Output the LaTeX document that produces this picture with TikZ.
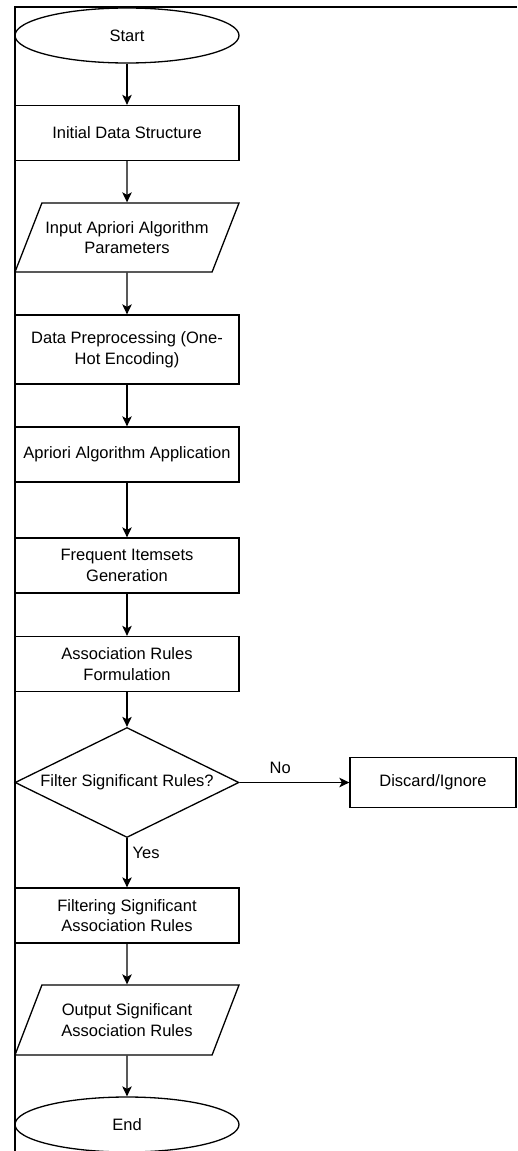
\documentclass[tikz,border=0pt]{standalone}
\usepackage{fontspec}
\setmainfont{Liberation Sans}
\usetikzlibrary{shapes.geometric,arrows.meta}

\begin{document}
\begin{tikzpicture}[->,>={Stealth[length=10pt,width=9.5pt,inset=2.5pt]},x=1pt,y=-1pt,
  line width=1.3pt,
  every node/.style={font=\fontsize{16.5}{20.5}\selectfont,align=center,inner sep=0pt},
  proc node/.style={rectangle,draw,minimum width=224pt,minimum height=55pt},
  term node/.style={ellipse,draw,minimum width=224pt,minimum height=55pt},
  io node/.style={trapezium,draw,trapezium left angle=68,trapezium right angle=112,
    trapezium stretches body=true,inner ysep=17pt,minimum width=224pt,minimum height=69pt},
  cond node/.style={diamond,draw,aspect=2,minimum width=224pt,minimum height=110pt}]

  \useasboundingbox (0,0) rectangle (517,1151);
  \draw[-,line width=2pt] (517,6.5) -- (15,6.5) -- (15,1151);

  \node[term node] (start) at (127,35.5) {Start};
  \node[proc node] (init) at (127,133) {Initial Data Structure};
  \node[io node] (params) at (127,237.5) {Input Apriori Algorithm\\Parameters};
  \node[proc node,minimum height=69pt] (prep) at (127,349.5) {Data Preprocessing (One-\\Hot Encoding)};
  \node[proc node] (apriori) at (127,454.5) {Apriori Algorithm Application};
  \node[proc node] (freq) at (127,565.5) {Frequent Itemsets\\Generation};
  \node[proc node] (assoc) at (127,664) {Association Rules\\Formulation};
  \node[cond node] (filter) at (127,782.5) {Filter Significant Rules?};
  \node[proc node,minimum width=166pt,minimum height=50pt] (discard) at (433,782.5) {Discard/Ignore};
  \node[proc node] (sig) at (127,915.5) {Filtering Significant\\Association Rules};
  \node[io node,minimum height=70pt] (output) at (127,1020) {Output Significant\\Association Rules};
  \node[term node] (end) at (127,1124.5) {End};

  \path
    (start) edge (init)
    (init) edge (params)
    (params) edge (prep)
    (prep) edge (apriori)
    (apriori) edge (freq)
    (freq) edge (assoc)
    (assoc) edge (filter)
    (filter) edge node[pos=0.37,above=8pt] {No} (discard)
    (filter) edge node[pos=0.3,right=5pt] {Yes} (sig)
    (sig) edge (output)
    (output) edge (end);
\end{tikzpicture}
\end{document}
